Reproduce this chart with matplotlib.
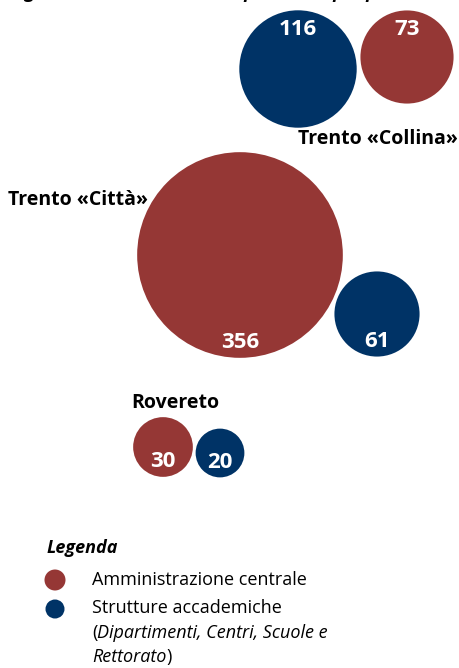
import matplotlib.pyplot as plt
from matplotlib.patches import Circle
import numpy as np

# data: staff headcount per site
sites = ["Trento «Collina»", "Trento «Città»", "Rovereto"]
amministrazione = [73, 356, 30]
strutture = [116, 61, 20]

RED = "#953735"
NAVY = "#003366"
FONT = "Open Sans"

fig = plt.figure(figsize=(4.6, 6.68), dpi=100)
ax = fig.add_axes([0, 0, 1, 1])
ax.set_xlim(0, 460)
ax.set_ylim(668, 0)
ax.set_aspect("equal")
ax.axis("off")

# bubble radius in px, area proportional to value
def radius(v):
    return 5.45 * np.sqrt(v)

# layout: bubble centres (px) and where the number sits ("top" / "bottom")
red_pos = [(407, 57, "top"), (240, 255, "bottom"), (163, 447, "bottom")]
navy_pos = [(298, 69, "top"), (377, 314, "bottom"), (220, 453, "bottom")]

def bubble(x, y, v, color, where):
    r = radius(v)
    ax.add_patch(Circle((x, y), r, color=color, lw=0))
    ty = y - r + 19 if where == "top" else y + r - 15
    ax.text(x, ty, str(v), color="white", fontsize=16, fontweight="bold",
            ha="center", va="center", family=FONT)

for (x, y, w), v in zip(red_pos, amministrazione):
    bubble(x, y, v, RED, w)
for (x, y, w), v in zip(navy_pos, strutture):
    bubble(x, y, v, NAVY, w)

# site labels
label_pos = [(458, 139, "right"), (8, 200, "left"), (131, 403, "left")]
for (x, y, ha), name in zip(label_pos, sites):
    ax.text(x, y, name, fontsize=14, fontweight="bold", ha=ha, va="center",
            family=FONT, color="black")

# clipped title at the very top (only descenders visible, as in the source)
ax.text(10, -2, "Figura 3 – Distribuzione del personale per polo", fontsize=13,
        fontweight="bold", style="italic", ha="left", va="baseline",
        family=FONT)

# legend
ax.text(47, 548, "Legenda", fontsize=13, fontweight="bold", style="italic",
        ha="left", va="center", family=FONT)
ax.add_patch(Circle((55, 580), 10.5, color=RED, lw=0))
ax.add_patch(Circle((55, 609), 9.5, color=NAVY, lw=0))
ax.text(92, 580, "Amministrazione centrale", fontsize=13, ha="left",
        va="center", family=FONT)
ax.text(92, 608, "Strutture accademiche", fontsize=13, ha="left",
        va="center", family=FONT)

fig.canvas.draw()
renderer = fig.canvas.get_renderer()
inv = ax.transData.inverted()

def next_x(t):
    bb = t.get_window_extent(renderer)
    return inv.transform((bb.x1, bb.y0))[0]

t = ax.text(92, 633, "(", fontsize=13, ha="left", va="center", family=FONT)
ax.text(next_x(t), 633, "Dipartimenti, Centri, Scuole e", fontsize=13,
        style="italic", ha="left", va="center", family=FONT)
t = ax.text(92, 657, "Rettorato", fontsize=13, style="italic", ha="left",
            va="center", family=FONT)
ax.text(next_x(t), 657, ")", fontsize=13, ha="left", va="center", family=FONT)

fig.savefig("out.png", dpi=100, facecolor="white")
